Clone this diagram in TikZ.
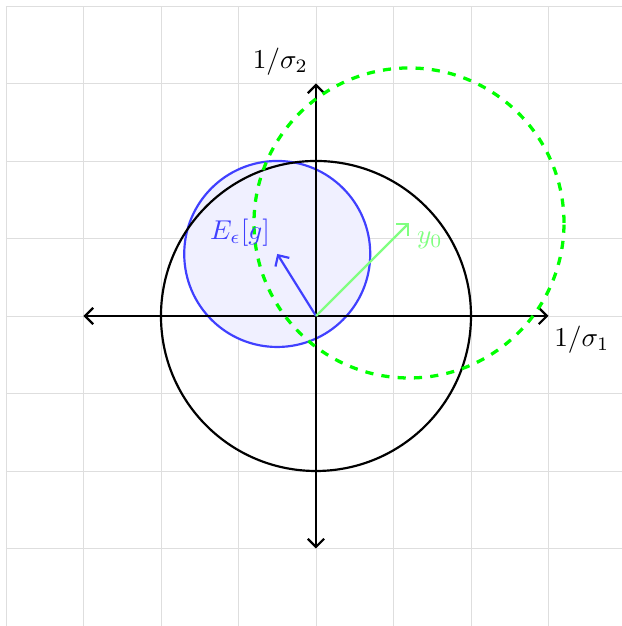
\documentclass[tikz,border=0pt]{standalone}
\usetikzlibrary{arrows.meta}
\begin{document}
\begin{tikzpicture}[
  gridline/.style={draw=black!13, very thin},
  axis/.style={thick, black, {Straight Barb[length=3pt]}-{Straight Barb[length=3pt]}},
  vec/.style={thick, -{Straight Barb[length=3pt]}},
]
\useasboundingbox (-4.077,-4.0) rectangle (3.948,4.077);
\draw[gridline] (-4,-4) grid (4,4);
% blue disc
\coordinate (O) at (0,0);
\coordinate (E) at (-0.5,0.8);
\coordinate (Y) at (1.2,1.2);
\fill[blue!6] (E) circle (1.2);
\draw[blue!75, thick] (E) circle (1.2);
% black circle
\draw[thick] (O) circle (2);
% axes
\coordinate (xl) at (-3,0);
\coordinate (xr) at (3,0);
\coordinate (yb) at (0,-3);
\coordinate (yt) at (0,3);
\draw[axis] (xl) -- (xr);
\draw[axis] (yb) -- (yt);
% green dashed circle
\draw[green, very thick, dashed] (Y) circle (2);
% vectors
\draw[vec, blue!75] (O) -- (E);
\draw[vec, green!50] (O) -- (Y);
% labels
\node[blue!75] (El) at (-0.98,1.07) {$E_\epsilon[g]$};
\node[green!50] (Yl) at (1.47,0.98) {$y_0$};
\node (s2) at (-0.46,3.28) {$1/\sigma_2$};
\node (s1) at (3.43,-0.3) {$1/\sigma_1$};
\end{tikzpicture}
\end{document}
